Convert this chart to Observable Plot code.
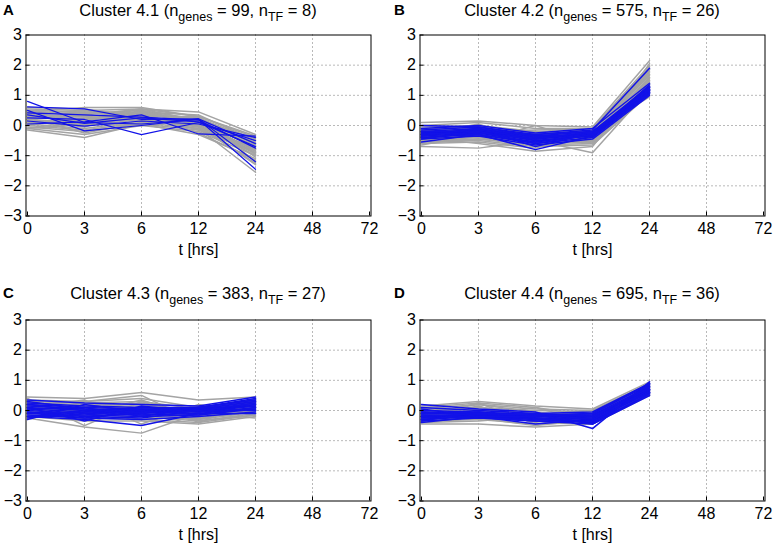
<!DOCTYPE html>
<html>
<head>
<meta charset="utf-8">
<script src="https://cdn.jsdelivr.net/npm/d3@7"></script>
<script src="https://cdn.jsdelivr.net/npm/@observablehq/plot@0.6"></script>
<style>
  html, body { margin: 0; padding: 0; background: #fff; }
  #wrap { position: relative; width: 775px; height: 547px; overflow: hidden; font-family: "Liberation Sans", Arial, Helvetica, sans-serif; }
  .panel { position: absolute; }
  .panel text { font-size: 16px; fill: #000; }
  .title { position: absolute; font-size: 16.5px; line-height: 16px; white-space: nowrap; transform: translateX(-50%); color: #000; }
  .title sub { font-size: 12.5px; vertical-align: -5px; line-height: 0; }
  .letter { position: absolute; font-size: 15px; font-weight: bold; line-height: 16px; color: #000; }
</style>
</head>
<body>
<div id="wrap"></div>
<script>
// ---- tick labels / categories ----
const xTicks = ["0", "3", "6", "12", "24", "48", "72"];
const sampleTimes = ["0", "3", "6", "12", "24"];
const yTicks = [-3, -2, -1, 0, 1, 2, 3];

// ---- panel titles ----
const panelLetters = ["A", "B", "C", "D"];
const clusterNames = ["4.1", "4.2", "4.3", "4.4"];
const nGenes = [99, 575, 383, 695];
const nTF = [8, 26, 27, 36];

// ---- Cluster 4.1 ----
const grayA = [
  [0.55, 0.5, 0.55, 0.45, -0.3],
  [0.45, 0.6, 0.6, 0.3, -0.35],
  [0.4, 0.4, 0.5, 0.2, -0.45],
  [0.35, 0.3, 0.45, 0.35, -0.5],
  [0.3, 0.2, 0.4, 0.1, -0.55],
  [0.25, 0.25, 0.35, 0.25, -0.6],
  [0.2, 0.1, 0.3, 0.05, -0.65],
  [0.15, 0.05, 0.25, 0.15, -0.7],
  [0.1, 0.0, 0.2, -0.05, -0.75],
  [0.05, -0.1, 0.15, 0.0, -0.8],
  [0.0, -0.15, 0.1, -0.1, -0.85],
  [-0.05, -0.2, 0.05, -0.15, -0.9],
  [-0.1, -0.3, 0.0, -0.2, -1.0],
  [-0.15, -0.4, 0.05, -0.3, -1.1],
  [0.3, 0.15, 0.5, 0.0, -1.3],
  [0.2, 0.35, 0.2, -0.1, -1.55],
  [0.5, 0.45, 0.4, 0.2, -0.95],
  [0.6, 0.55, 0.3, 0.1, -0.6],
  [0.1, 0.2, 0.55, 0.3, -0.4],
  [0.35, 0.05, 0.0, 0.2, -1.05],
  [0.25, 0.3, 0.45, 0.05, -0.8],
  [0.45, 0.1, 0.35, -0.15, -0.7],
  [0.0, 0.25, 0.3, 0.3, -1.2],
  [0.15, -0.05, 0.5, 0.1, -0.9],
  [0.4, 0.5, 0.25, 0.0, -1.0],
  [0.3, 0.35, 0.55, 0.15, -0.85],
  [0.2, 0.0, 0.4, -0.25, -1.15],
  [0.5, 0.3, 0.15, 0.25, -0.5],
  [0.05, 0.15, 0.45, 0.05, -0.65],
  [0.35, 0.45, 0.3, -0.05, -1.25],
  [-0.1, 0.05, 0.25, 0.1, -0.95],
  [0.25, -0.25, 0.1, 0.2, -0.75]
];
const blueA = [
  [0.8, 0.1, 0.05, 0.2, -1.45],
  [0.62, 0.55, 0.2, 0.22, -1.2],
  [0.42, 0.35, 0.28, 0.18, -0.75],
  [0.35, 0.07, 0.25, 0.12, -0.7],
  [0.25, 0.2, -0.3, 0.1, -0.5],
  [0.15, -0.02, 0.15, 0.05, -0.4],
  [0.5, -0.18, 0.0, 0.22, -0.6],
  [0.05, 0.12, 0.35, -0.28, -0.35]
];

// ---- Cluster 4.2 ----
const grayB = [
  [0.1, 0.15, 0.0, -0.05, 2.15],
  [0.0, 0.1, -0.1, -0.1, 2.0],
  [-0.05, 0.0, -0.2, -0.15, 1.85],
  [-0.1, -0.05, -0.25, -0.2, 1.75],
  [-0.15, -0.1, -0.3, -0.25, 1.65],
  [-0.2, -0.15, -0.35, -0.3, 1.55],
  [-0.25, -0.2, -0.4, -0.35, 1.5],
  [-0.3, -0.25, -0.45, -0.4, 1.4],
  [-0.35, -0.3, -0.5, -0.45, 1.3],
  [-0.4, -0.35, -0.55, -0.5, 1.25],
  [-0.45, -0.4, -0.6, -0.55, 1.15],
  [-0.5, -0.45, -0.65, -0.6, 1.1],
  [-0.55, -0.5, -0.7, -0.65, 1.05],
  [-0.6, -0.55, -0.75, -0.3, 1.0],
  [-0.7, -0.75, -0.5, -0.9, 1.2],
  [-0.4, -0.6, -0.85, -0.7, 1.6],
  [-0.25, -0.5, 0.0, -0.6, 1.9],
  [-0.65, -0.3, -0.4, -0.2, 0.95],
  [-0.3, 0.05, -0.6, -0.35, 1.45],
  [-0.5, -0.2, -0.15, -0.1, 1.7],
  [-0.2, -0.35, -0.7, -0.45, 1.35],
  [-0.45, -0.15, -0.3, -0.6, 2.05],
  [-0.25, -0.1, -0.2, -0.35, 1.8],
  [-0.35, -0.05, -0.45, -0.15, 1.95],
  [-0.15, -0.3, -0.55, -0.4, 1.6],
  [-0.5, -0.35, -0.35, -0.5, 1.5],
  [-0.4, -0.25, -0.65, -0.25, 1.85],
  [-0.3, -0.4, -0.25, -0.55, 1.3],
  [-0.2, 0.0, -0.5, -0.3, 1.7],
  [-0.6, -0.45, -0.6, -0.4, 1.4]
];
const blueB = [
  [0.0, -0.05, -0.3, -0.15, 1.9],
  [-0.1, 0.0, -0.25, -0.1, 1.4],
  [-0.15, -0.05, -0.35, -0.2, 1.3],
  [-0.2, -0.1, -0.4, -0.25, 1.25],
  [-0.25, -0.15, -0.45, -0.3, 1.2],
  [-0.3, -0.2, -0.5, -0.35, 1.15],
  [-0.35, -0.25, -0.55, -0.3, 1.1],
  [-0.4, -0.3, -0.6, -0.4, 1.05],
  [-0.45, -0.35, -0.65, -0.45, 1.0],
  [-0.55, -0.3, -0.8, -0.35, 1.25],
  [-0.3, -0.1, -0.7, -0.25, 1.15],
  [-0.2, -0.25, -0.35, -0.3, 1.35],
  [-0.25, -0.2, -0.3, -0.2, 1.1],
  [-0.35, -0.15, -0.45, -0.25, 1.2],
  [-0.3, -0.15, -0.4, -0.3, 1.3],
  [-0.2, -0.2, -0.5, -0.35, 1.25],
  [-0.4, -0.25, -0.45, -0.2, 1.15],
  [-0.35, -0.1, -0.35, -0.35, 1.05],
  [-0.25, -0.3, -0.55, -0.25, 1.2],
  [-0.45, -0.2, -0.6, -0.3, 1.1]
];

// ---- Cluster 4.3 ----
const grayC = [
  [0.45, 0.4, 0.6, 0.35, 0.45],
  [0.35, 0.3, 0.4, 0.1, 0.35],
  [0.3, 0.25, 0.3, 0.05, 0.3],
  [0.25, 0.2, 0.2, 0.0, 0.25],
  [0.2, 0.15, 0.15, -0.05, 0.2],
  [0.15, 0.1, 0.1, -0.1, 0.15],
  [0.1, 0.05, 0.05, -0.15, 0.1],
  [0.05, 0.0, 0.0, -0.2, 0.05],
  [0.0, -0.05, -0.05, -0.25, 0.0],
  [-0.05, -0.1, -0.1, -0.3, -0.05],
  [-0.1, -0.15, -0.2, -0.35, -0.1],
  [-0.15, -0.25, -0.3, -0.4, -0.15],
  [-0.2, -0.35, -0.35, -0.45, -0.2],
  [-0.25, -0.55, -0.75, -0.1, -0.25],
  [0.4, -0.5, 0.3, -0.3, 0.1],
  [0.1, 0.35, -0.45, 0.2, -0.1],
  [-0.1, 0.3, 0.5, -0.4, 0.3],
  [0.2, -0.3, -0.2, 0.15, 0.0],
  [0.3, 0.1, 0.25, -0.2, 0.35],
  [0.0, 0.2, -0.15, -0.3, 0.25],
  [-0.2, -0.1, 0.35, -0.25, 0.1],
  [0.2, 0.3, 0.0, -0.35, -0.15],
  [0.35, -0.2, 0.1, 0.0, 0.2],
  [-0.1, 0.05, -0.3, -0.05, 0.4]
];
const blueC = [
  [0.35, 0.25, 0.2, 0.15, 0.45],
  [0.25, 0.15, 0.1, 0.1, 0.35],
  [0.2, 0.1, 0.05, 0.05, 0.3],
  [0.15, 0.05, 0.0, 0.0, 0.25],
  [0.1, 0.0, -0.05, -0.05, 0.2],
  [0.05, -0.05, -0.1, 0.05, 0.15],
  [0.0, -0.1, -0.15, -0.1, 0.1],
  [-0.05, -0.15, -0.2, -0.15, 0.05],
  [-0.1, -0.2, -0.25, 0.0, 0.0],
  [-0.15, -0.25, -0.3, -0.2, -0.05],
  [-0.2, -0.3, -0.5, -0.1, -0.1],
  [-0.3, 0.2, -0.05, 0.1, 0.4],
  [0.1, -0.35, 0.15, -0.05, 0.05],
  [-0.25, -0.05, 0.1, 0.0, 0.2],
  [0.2, 0.0, -0.1, 0.05, 0.3],
  [-0.1, -0.05, 0.05, -0.05, 0.15],
  [0.05, 0.1, -0.2, 0.1, 0.35],
  [-0.2, -0.15, 0.0, -0.15, 0.1],
  [0.3, 0.05, -0.15, 0.0, 0.25],
  [-0.05, -0.25, -0.05, 0.1, 0.0]
];

// ---- Cluster 4.4 ----
const grayD = [
  [0.15, 0.3, 0.15, 0.05, 0.95],
  [0.05, 0.2, 0.05, 0.0, 0.9],
  [0.0, 0.1, 0.0, -0.05, 0.85],
  [-0.05, 0.05, -0.1, -0.1, 0.8],
  [-0.1, 0.0, -0.15, -0.15, 0.75],
  [-0.15, -0.05, -0.2, -0.2, 0.7],
  [-0.2, -0.1, -0.25, -0.25, 0.65],
  [-0.25, -0.15, -0.3, -0.3, 0.6],
  [-0.3, -0.2, -0.35, -0.35, 0.55],
  [-0.35, -0.3, -0.45, -0.4, 0.5],
  [-0.45, -0.45, -0.55, -0.45, 0.5],
  [-0.4, -0.25, -0.5, -0.3, 0.6],
  [0.1, 0.25, 0.1, -0.2, 0.7],
  [-0.2, 0.15, -0.4, 0.0, 0.8],
  [-0.1, 0.2, -0.05, -0.25, 0.85],
  [-0.3, 0.05, -0.3, -0.1, 0.75],
  [0.0, -0.1, 0.1, -0.4, 0.65],
  [-0.4, -0.35, -0.2, 0.0, 0.55],
  [-0.2, 0.25, -0.45, -0.2, 0.9]
];
const blueD = [
  [0.2, 0.05, -0.05, -0.6, 0.95],
  [0.1, 0.0, -0.1, -0.05, 0.9],
  [0.0, -0.05, -0.15, -0.1, 0.85],
  [-0.05, -0.1, -0.15, -0.15, 0.8],
  [-0.1, -0.1, -0.2, -0.2, 0.75],
  [-0.15, -0.15, -0.2, -0.25, 0.7],
  [-0.2, -0.15, -0.25, -0.3, 0.65],
  [-0.25, -0.2, -0.25, -0.35, 0.6],
  [-0.3, -0.2, -0.3, -0.4, 0.55],
  [-0.35, -0.25, -0.35, -0.45, 0.5],
  [-0.4, -0.2, -0.45, -0.3, 0.6],
  [-0.2, -0.25, -0.1, -0.2, 0.7],
  [-0.1, -0.05, -0.3, -0.25, 0.8],
  [-0.3, -0.15, -0.2, -0.15, 0.65],
  [-0.25, -0.1, -0.3, -0.2, 0.75],
  [-0.15, -0.2, -0.35, -0.35, 0.85],
  [-0.05, -0.15, -0.1, -0.3, 0.6],
  [-0.35, -0.05, -0.25, -0.4, 0.7],
  [0.05, -0.2, -0.2, -0.1, 0.9],
  [-0.2, -0.1, -0.15, -0.45, 0.55]
];

const grays = [grayA, grayB, grayC, grayD];
const blues = [blueA, blueB, blueC, blueD];

function toRows(lines) {
  return lines.flatMap((vals, id) => vals.map((v, i) => ({id, t: sampleTimes[i], v})));
}

const wrap = document.getElementById("wrap");
const panelLeft = [0, 394, 0, 394];
const panelTop = [0, 0, 285, 285];
const GRAY = "#a4a4a4";
const BLUE = "#1212e8";
const grayWidth = [1.5, 1.5, 1.5, 1.5];
const blueWidth = [1.2, 1.5, 1.5, 1.6];

for (let p = 0; p < 4; p++) {
  const chart = Plot.plot({
    width: 387,
    height: 262,
    marginLeft: 25.5,
    marginRight: 16.5,
    marginTop: 34.5,
    marginBottom: 46.5,
    style: {fontFamily: "'Liberation Sans', Arial, Helvetica, sans-serif", fontSize: "16px", color: "#000", background: "transparent"},
    x: {type: "point", domain: xTicks, padding: 0},
    y: {domain: [-3, 3], ticks: yTicks},
    marks: [
      Plot.gridX(xTicks.slice(1, -1), {stroke: "#000", strokeOpacity: 0.55, strokeDasharray: "1,3"}),
      Plot.gridY(yTicks.slice(1, -1), {stroke: "#000", strokeOpacity: 0.55, strokeDasharray: "1,3"}),
      Plot.line(toRows(grays[p]), {x: "t", y: "v", z: "id", stroke: GRAY, strokeWidth: grayWidth[p]}),
      Plot.line(toRows(blues[p]), {x: "t", y: "v", z: "id", stroke: BLUE, strokeWidth: blueWidth[p]}),
      Plot.frame({stroke: "#000", strokeWidth: 1}),
      Plot.axisX(xTicks, {tickSize: -4, tickPadding: 11, label: "t [hrs]", labelAnchor: "center", labelOffset: 39, labelArrow: "none"}),
      Plot.axisY(yTicks, {tickSize: -4, tickPadding: 8, label: null})
    ]
  });
  chart.classList.add("panel");
  chart.style.left = panelLeft[p] + "px";
  chart.style.top = panelTop[p] + "px";
  wrap.appendChild(chart);

  const title = document.createElement("div");
  title.className = "title";
  title.style.left = (panelLeft[p] + 198) + "px";
  title.style.top = (panelTop[p] + (p < 2 ? 2 : 0)) + "px";
  title.innerHTML = `Cluster ${clusterNames[p]} (n<sub>genes</sub> = ${nGenes[p]}, n<sub>TF</sub> = ${nTF[p]})`;
  wrap.appendChild(title);

  const letter = document.createElement("div");
  letter.className = "letter";
  letter.textContent = panelLetters[p];
  letter.style.left = (panelLeft[p] + (p % 2 === 0 ? 3 : 0)) + "px";
  letter.style.top = (panelTop[p] + (p < 2 ? 2 : 0)) + "px";
  wrap.appendChild(letter);
}
</script>
</body>
</html>
